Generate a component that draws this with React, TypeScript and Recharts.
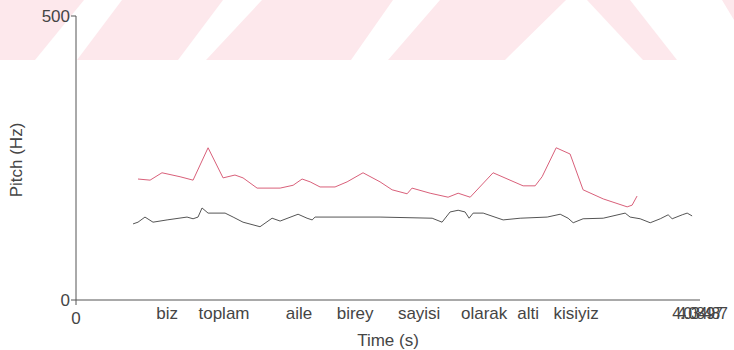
import React from 'react';
import { LineChart, Line, XAxis, YAxis } from 'recharts';

const T_END = 4.035;

const femaleTimes = [0.401, 0.479, 0.556, 0.673, 0.757, 0.854, 0.951, 1.028, 1.08, 1.171, 1.32, 1.404, 1.462, 1.514, 1.578, 1.675, 1.753, 1.856, 1.966, 2.044, 2.141, 2.173, 2.29, 2.406, 2.471, 2.549, 2.697, 2.891, 2.969, 3.014, 3.105, 3.195, 3.279, 3.409, 3.564, 3.596, 3.628];
const femalePitch = [213, 211, 224, 217, 211, 268, 215, 220, 215, 197, 197, 202, 213, 208, 199, 199, 208, 224, 208, 194, 187, 197, 188, 181, 188, 181, 224, 201, 201, 217, 268, 257, 194, 178, 164, 167, 183];

const maleTimes = [0.369, 0.401, 0.446, 0.498, 0.589, 0.718, 0.757, 0.789, 0.815, 0.854, 0.964, 1.016, 1.08, 1.19, 1.268, 1.32, 1.436, 1.494, 1.527, 1.546, 1.966, 2.303, 2.367, 2.419, 2.471, 2.516, 2.542, 2.568, 2.633, 2.762, 2.872, 3.047, 3.131, 3.182, 3.215, 3.279, 3.409, 3.551, 3.583, 3.648, 3.713, 3.778, 3.829, 3.855, 3.92, 3.952, 3.984];
const malePitch = [134, 137, 146, 137, 141, 146, 143, 146, 162, 153, 153, 146, 137, 129, 144, 139, 151, 144, 141, 146, 146, 144, 137, 155, 158, 155, 144, 153, 153, 141, 144, 146, 151, 144, 136, 143, 144, 153, 146, 143, 136, 143, 150, 143, 150, 153, 148];

const wordTimes = [0.589, 0.957, 1.442, 1.805, 2.219, 2.639, 2.924, 3.234];
const wordLabels = ['biz', 'toplam', 'aile', 'birey', 'sayisi', 'olarak', 'alti', 'kisiyiz'];
const endLabels = ['4.03497', '4.08487'];

const femaleData = femaleTimes.map((t, i) => ({ t, hz: femalePitch[i] }));
const maleData = maleTimes.map((t, i) => ({ t, hz: malePitch[i] }));

const FONT = '"Liberation Sans", Arial, sans-serif';
const TEXT = '#454545';
const AXIS = '#555';
const FS = 17;

const xTicks = [0, ...wordTimes, T_END];

const XTick = (props: any) => {
  const { x, y, payload } = props;
  const v = payload.value;
  if (v === 0) {
    return (
      <g>
        <line x1={x} x2={x} y1={y - 8} y2={y - 3} stroke={AXIS} />
        <text x={x} y={y + 16} textAnchor="middle" fontFamily={FONT} fontSize={FS} fill={TEXT}>0</text>
      </g>
    );
  }
  if (Math.abs(v - T_END) < 1e-6) {
    return (
      <g>
        {endLabels.map((l, i) => (
          <text key={l} x={x - 3 + i * 5} y={y + 11} textAnchor="middle" fontFamily={FONT} fontSize={16} fill={TEXT} letterSpacing={-1.2}>{l}</text>
        ))}
      </g>
    );
  }
  const idx = wordTimes.indexOf(v);
  return (
    <text x={x} y={y + 11} textAnchor="middle" fontFamily={FONT} fontSize={FS} fill={TEXT}>{wordLabels[idx]}</text>
  );
};

const YLabel = () => (
  <text x={16} y={160} transform="rotate(-90 16 160)" textAnchor="middle" dominantBaseline="central" fontFamily={FONT} fontSize={FS} fill={TEXT}>Pitch (Hz)</text>
);

const Stripes = () => (
  <svg width={734} height={350} style={{ position: 'absolute', left: 0, top: 0 }}>
    <g fill="#fde8ec">
      <polygon points="0,0 84,0 35,60 0,60" />
      <polygon points="122,0 223,0 178,60 77,60" />
      <polygon points="262,0 393,0 351,60 206,60" />
      <polygon points="440,0 566,0 505,60 388,60" />
      <polygon points="587,0 630,0 677,60 643,60" />
      <polygon points="722,0 734,0 734,20" />
    </g>
  </svg>
);

export default function App() {
  return (
    <div style={{ position: 'absolute', left: 0, top: 0, width: 734, height: 350, background: '#fff' }}>
      <Stripes />
      <div style={{ position: 'absolute', left: 0, top: 0 }}>
        <LineChart width={734} height={350} margin={{ top: 16, right: 34, bottom: 0, left: 0 }}>
          <XAxis
            xAxisId="b"
            dataKey="t"
            type="number"
            domain={[0, T_END]}
            ticks={xTicks}
            interval={0}
            tick={<XTick />}
            tickLine={false}
            axisLine={{ stroke: AXIS, strokeWidth: 1 }}
            height={50}
            label={{ value: 'Time (s)', position: 'insideBottom', offset: 4, fontFamily: FONT, fontSize: FS, fill: TEXT }}
          />
          <XAxis xAxisId="t" orientation="top" type="number" domain={[0, T_END]} tick={false} tickLine={false} axisLine={{ stroke: AXIS }} height={0} />
          <YAxis
            yAxisId="l"
            type="number"
            domain={[0, 500]}
            ticks={[0, 500]}
            tick={{ fontFamily: FONT, fontSize: FS, fill: TEXT }}
            tickLine={{ stroke: AXIS }}
            tickSize={5}
            tickMargin={1}
            axisLine={{ stroke: AXIS }}
            width={76}
            label={<YLabel />}
          />
          <YAxis yAxisId="r" orientation="right" type="number" domain={[0, 500]} tick={false} tickLine={false} axisLine={{ stroke: AXIS }} width={0} />
          <Line xAxisId="b" yAxisId="l" data={femaleData} dataKey="hz" type="linear" stroke="#d9607a" strokeWidth={1} dot={false} isAnimationActive={false} />
          <Line xAxisId="b" yAxisId="l" data={maleData} dataKey="hz" type="linear" stroke="#555" strokeWidth={1} dot={false} isAnimationActive={false} />
        </LineChart>
      </div>
    </div>
  );
}
